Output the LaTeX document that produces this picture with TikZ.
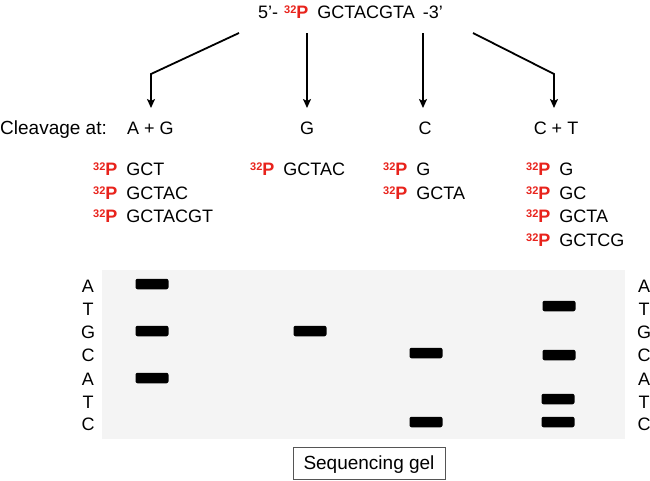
\documentclass[tikz,border=0pt]{standalone}
\usepackage{fontspec}
\setmainfont{Liberation Sans}
\usetikzlibrary{arrows.meta}
\definecolor{pred}{HTML}{E8231C}
\definecolor{gelbg}{HTML}{F4F4F4}
\definecolor{boxgray}{HTML}{555555}
\newcommand\PP{{\color{pred}\bfseries\raisebox{5pt}{\fontsize{11}{11}\selectfont 32}P}}
\begin{document}
\begin{tikzpicture}[x=1pt,y=-1pt,
  font=\fontsize{18}{20}\selectfont,
  txt/.style={inner sep=0pt, text height=13pt, text depth=0pt},
  band/.style={fill=black, rounded corners=2pt, minimum width=33pt, minimum height=10.5pt, inner sep=0pt},
  arr/.style={line width=1.8pt, -{Stealth[length=9pt,width=8pt,inset=2pt]}}]
\useasboundingbox (0,0) rectangle (650,480);

% title
\node[txt, anchor=west] (title) at (258,12) {5’-\hspace{6pt}\PP\hspace{9pt}GCTACGTA\hspace{8pt}-3’};

% arrow coordinates
\coordinate (s1) at (239,33);
\coordinate (c1) at (151,74);
\coordinate (e1) at (151,108);
\coordinate (s2) at (307,33);
\coordinate (e2) at (307,108);
\coordinate (s3) at (423,33);
\coordinate (e3) at (423,108);
\coordinate (s4) at (473,33);
\coordinate (c4) at (554,74);
\coordinate (e4) at (554,108);
\draw[arr, line join=miter] (s1) -- (c1) -- (e1);
\draw[arr] (s2) -- (e2);
\draw[arr] (s3) -- (e3);
\draw[arr, line join=miter] (s4) -- (c4) -- (e4);

% cleavage row
\node[txt, anchor=west, font=\fontsize{19}{21}\selectfont] (clv) at (0,128) {Cleavage at:};
\node[txt, anchor=west] (lag) at (127,128) {A + G};
\node[txt] (lg) at (307,128) {G};
\node[txt] (lc) at (425,128) {C};
\node[txt] (lct) at (556,128) {C + T};

% fragments
\node[txt, anchor=west] (f11) at (93,169) {\PP\hspace{9pt}GCT};
\node[txt, anchor=west] (f12) at (93,193) {\PP\hspace{9pt}GCTAC};
\node[txt, anchor=west] (f13) at (93,216) {\PP\hspace{9pt}GCTACGT};
\node[txt, anchor=west] (f21) at (250,169) {\PP\hspace{9pt}GCTAC};
\node[txt, anchor=west] (f31) at (383,169) {\PP\hspace{9pt}G};
\node[txt, anchor=west] (f32) at (383,193) {\PP\hspace{9pt}GCTA};
\node[txt, anchor=west] (f41) at (526,169) {\PP\hspace{9pt}G};
\node[txt, anchor=west] (f42) at (526,193) {\PP\hspace{9pt}GC};
\node[txt, anchor=west] (f43) at (526,216) {\PP\hspace{9pt}GCTA};
\node[txt, anchor=west] (f44) at (526,240) {\PP\hspace{9pt}GCTCG};

% gel
\fill[gelbg] (102,270) rectangle (625,439);
\foreach \l/\y [count=\i] in {A/286,T/309,G/332,C/355,A/379,T/402,C/424}{
  \node[txt] (L\i) at (88,\y) {\l};
  \node[txt] (R\i) at (644,\y) {\l};
}
% bands
\node[band] (b1) at (152,284) {};
\node[band] (b2) at (152,331) {};
\node[band] (b3) at (152,378) {};
\node[band] (b4) at (310,331) {};
\node[band] (b5) at (426,353) {};
\node[band] (b6) at (426,422) {};
\node[band] (b7) at (559,306) {};
\node[band] (b8) at (559,355) {};
\node[band] (b9) at (558,399) {};
\node[band] (b10) at (558,422) {};

\node[txt, draw=boxgray, line width=0.8pt, minimum width=152pt, minimum height=32pt, font=\fontsize{19}{21}\selectfont] (gel) at (369,463) {Sequencing gel};
\end{tikzpicture}
\end{document}
